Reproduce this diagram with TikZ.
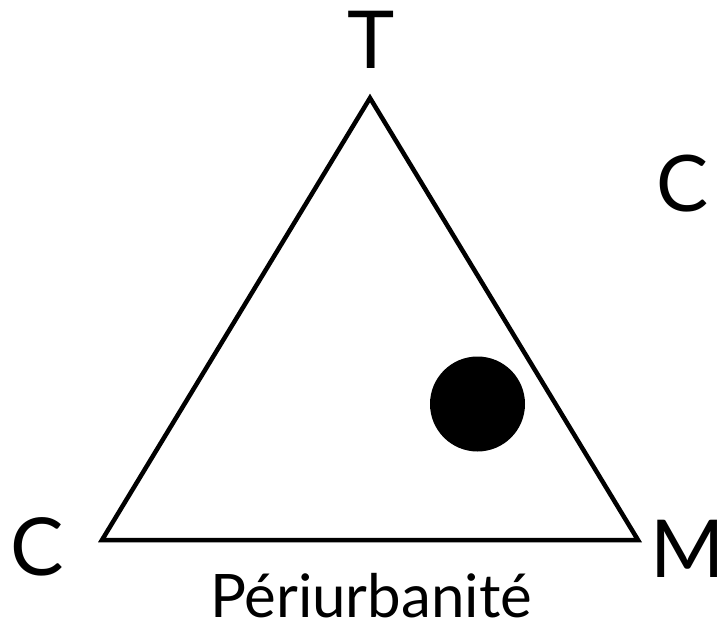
\documentclass[tikz,border=0pt]{standalone}
\usepackage{fontspec}
\setmainfont{Lato}
\tikzset{
  lbl/.style={inner sep=0pt, anchor=base, text=black},
  big/.style={lbl, font=\fontsize{80}{80}\selectfont},
  mid/.style={lbl, font=\fontsize{78}{78}\selectfont},
  small/.style={lbl, font=\fontsize{60}{60}\selectfont},
  edge/.style={line width=4.5pt, line join=miter}
}
\begin{document}
\begin{tikzpicture}[x=1pt,y=-1pt]
\useasboundingbox (0,0) rectangle (720,624);
\coordinate (top) at (370,98);
\coordinate (bl) at (102,540);
\coordinate (br) at (638,540);
\draw[edge] (top) -- (bl) -- (br) -- cycle;
\fill (477.5,404) circle (47.5);
\node[big] (t) at (371,68) {T};
\node[mid] (cr) at (683,211) {C};
\node[big] (cl) at (37,575) {C};
\node[big] (m) at (688,577) {M};
\node[small] (p) at (371,617) {Périurbanité};
\end{tikzpicture}
\end{document}
